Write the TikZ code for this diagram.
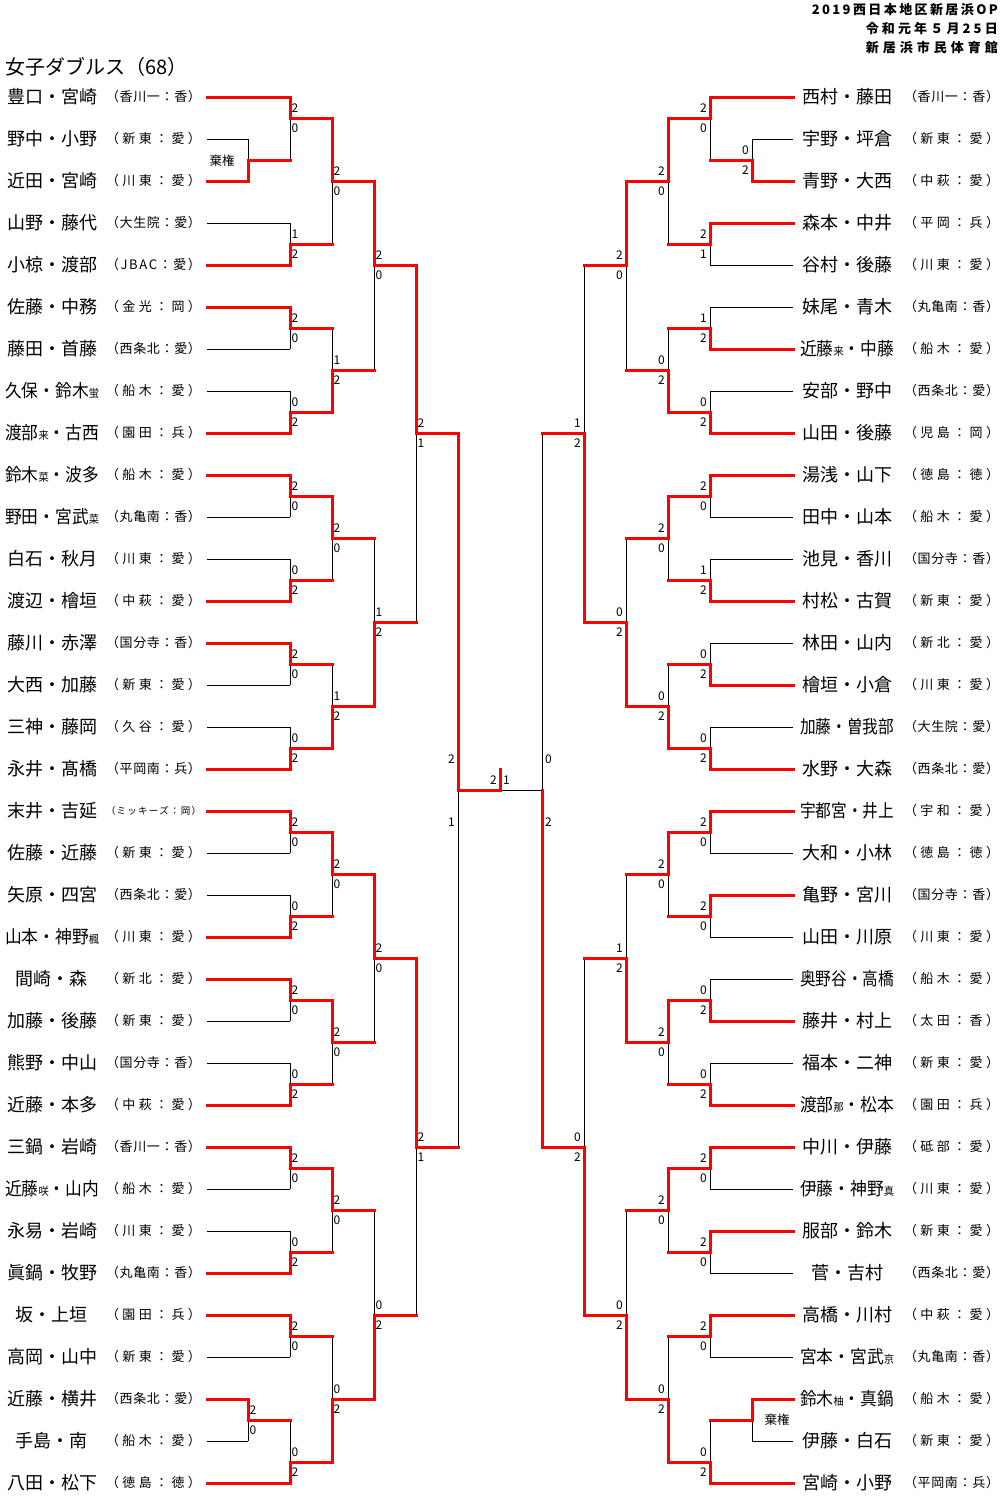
\documentclass[tikz,border=0pt]{standalone}
\usepackage{fontspec}
\usepackage{graphicx}
\setmainfont{Noto Sans CJK JP}

% squeeze long names into their column
\newsavebox\namebox
\newcommand\fitname[1]{\sbox\namebox{#1}%
  \ifdim\wd\namebox>94pt\resizebox{94pt}{\height}{\usebox\namebox}\else\usebox\namebox\fi}
\newcommand\sm[1]{{\fontsize{11}{11}\selectfont #1}}

% spread the letters of a text over a fixed width
\newcommand\spread[2]{\makebox[#1][s]{\spreadfirst#2\relax}}
\def\spreadfirst#1{#1\spreadrest}
\def\spreadrest#1{\ifx#1\relax\else\hfil#1\expandafter\spreadrest\fi}

\newcommand\lplayer[4][]{%
  \node[pname] (Ln#2) at (52,{97+42*#2}) {\fitname{#3}};
  \node[club,#1] (Lc#2) at (153.5,{97+42*#2}) {\spread{95pt}{（#4）}};
  \coordinate (Lp#2) at (207,{97+42*#2});}
\newcommand\rplayer[4][]{%
  \node[pname] (Rn#2) at (847,{97+42*#2}) {\fitname{#3}};
  \node[club,#1] (Rc#2) at (951.5,{97+42*#2}) {\spread{95pt}{（#4）}};
  \coordinate (Rp#2) at (793,{97+42*#2});}

% junction, winner, loser, loser line, side, top score, bottom score
\newcommand\bout[7]{%
  \draw[lose] (#3 -| #1) -- (#1);
  \draw[#4] (#3) -- (#3 -| #1);
  \draw[win] (#2) -| (#1);
  \node[score,#5top] (#1t) at (#1) {#6};
  \node[score,#5bot] (#1b) at (#1) {#7};}

\begin{document}
\begin{tikzpicture}[
    x=1pt, y=-1pt,
    win/.style={draw=red, line width=3pt, line cap=rect},
    lose/.style={draw=black, line width=1pt},
    pname/.style={font=\fontsize{18}{18}\selectfont, inner sep=0pt},
    club/.style={font=\fontsize{13}{13}\selectfont, inner sep=0pt},
    score/.style={font=\fontsize{12}{12}\selectfont, inner sep=0pt},
    head/.style={font=\fontsize{13}{13}\selectfont\bfseries, inner sep=0pt, anchor=east},
    wo/.style={font=\fontsize{12.5}{13}\selectfont, inner sep=0pt},
    ltop/.style={anchor=west, xshift=1.5pt, yshift=9.5pt},
    lbot/.style={anchor=west, xshift=1.5pt, yshift=-10.5pt},
    rtop/.style={anchor=east, xshift=-3pt, yshift=9.5pt},
    rbot/.style={anchor=east, xshift=-3pt, yshift=-10.5pt},
    sltop/.style={anchor=east, xshift=-3pt, yshift=31pt},
    slbot/.style={anchor=east, xshift=-3pt, yshift=-32pt},
    srtop/.style={anchor=west, xshift=3pt, yshift=31pt},
    srbot/.style={anchor=west, xshift=3pt, yshift=-32pt}
]
\useasboundingbox (0,0) rectangle (1005,1505);

% heading
\node[anchor=west, inner sep=0pt, font=\fontsize{20}{20}\selectfont] (title) at (5,67) {女子ダブルス（68）};
\node[head] (hd1) at (998,10) {\spread{186pt}{2019西日本地区新居浜OP}};
\node[head] (hd2) at (998,29) {\spread{132pt}{令和元年５月25日}};
\node[head] (hd3) at (998,48) {\spread{132pt}{新居浜市民体育館}};

% left half
\lplayer{0}{豊口・宮崎}{香川一：香}
\lplayer{1}{野中・小野}{新東：愛}
\lplayer{2}{近田・宮崎}{川東：愛}
\lplayer{3}{山野・藤代}{大生院：愛}
\lplayer{4}{小椋・渡部}{JBAC：愛}
\lplayer{5}{佐藤・中務}{金光：岡}
\lplayer{6}{藤田・首藤}{西条北：愛}
\lplayer{7}{久保・鈴木\sm{蛍}}{船木：愛}
\lplayer{8}{渡部\sm{来}・古西}{園田：兵}
\lplayer{9}{鈴木\sm{菜}・波多}{船木：愛}
\lplayer{10}{野田・宮武\sm{菜}}{丸亀南：香}
\lplayer{11}{白石・秋月}{川東：愛}
\lplayer{12}{渡辺・檜垣}{中萩：愛}
\lplayer{13}{藤川・赤澤}{国分寺：香}
\lplayer{14}{大西・加藤}{新東：愛}
\lplayer{15}{三神・藤岡}{久谷：愛}
\lplayer{16}{永井・髙橋}{平岡南：兵}
\lplayer[font=\fontsize{9.5}{10}\selectfont]{17}{末井・吉延}{ミッキーズ：岡}
\lplayer{18}{佐藤・近藤}{新東：愛}
\lplayer{19}{矢原・四宮}{西条北：愛}
\lplayer{20}{山本・神野\sm{楓}}{川東：愛}
\lplayer{21}{間崎・森}{新北：愛}
\lplayer{22}{加藤・後藤}{新東：愛}
\lplayer{23}{熊野・中山}{国分寺：香}
\lplayer{24}{近藤・本多}{中萩：愛}
\lplayer{25}{三鍋・岩崎}{香川一：香}
\lplayer{26}{近藤\sm{咲}・山内}{船木：愛}
\lplayer{27}{永易・岩崎}{川東：愛}
\lplayer{28}{眞鍋・牧野}{丸亀南：香}
\lplayer{29}{坂・上垣}{園田：兵}
\lplayer{30}{高岡・山中}{新東：愛}
\lplayer{31}{近藤・横井}{西条北：愛}
\lplayer{32}{手島・南}{船木：愛}
\lplayer{33}{八田・松下}{徳島：徳}

% right half
\rplayer{0}{西村・藤田}{香川一：香}
\rplayer{1}{宇野・坪倉}{新東：愛}
\rplayer{2}{青野・大西}{中萩：愛}
\rplayer{3}{森本・中井}{平岡：兵}
\rplayer{4}{谷村・後藤}{川東：愛}
\rplayer{5}{妹尾・青木}{丸亀南：香}
\rplayer{6}{近藤\sm{来}・中藤}{船木：愛}
\rplayer{7}{安部・野中}{西条北：愛}
\rplayer{8}{山田・後藤}{児島：岡}
\rplayer{9}{湯浅・山下}{徳島：徳}
\rplayer{10}{田中・山本}{船木：愛}
\rplayer{11}{池見・香川}{国分寺：香}
\rplayer{12}{村松・古賀}{新東：愛}
\rplayer{13}{林田・山内}{新北：愛}
\rplayer{14}{檜垣・小倉}{川東：愛}
\rplayer{15}{加藤・曽我部}{大生院：愛}
\rplayer{16}{水野・大森}{西条北：愛}
\rplayer{17}{宇都宮・井上}{宇和：愛}
\rplayer{18}{大和・小林}{徳島：徳}
\rplayer{19}{亀野・宮川}{国分寺：香}
\rplayer{20}{山田・川原}{川東：愛}
\rplayer{21}{奥野谷・高橋}{船木：愛}
\rplayer{22}{藤井・村上}{太田：香}
\rplayer{23}{福本・二神}{新東：愛}
\rplayer{24}{渡部\sm{那}・松本}{園田：兵}
\rplayer{25}{中川・伊藤}{砥部：愛}
\rplayer{26}{伊藤・神野\sm{真}}{川東：愛}
\rplayer{27}{服部・鈴木}{新東：愛}
\rplayer{28}{菅・吉村}{西条北：愛}
\rplayer{29}{高橋・川村}{中萩：愛}
\rplayer{30}{宮本・宮武\sm{京}}{丸亀南：香}
\rplayer{31}{鈴木\sm{柚}・真鍋}{船木：愛}
\rplayer{32}{伊藤・白石}{新東：愛}
\rplayer{33}{宮崎・小野}{平岡南：兵}

% junctions
\coordinate (Lq0) at (248,160);
\coordinate (Lq1) at (248,1420);
\coordinate (Rq0) at (752,160);
\coordinate (Rq1) at (752,1420);
\foreach \y [count=\i from 0] in {118,244,328,412,496,580,664,748,832,916,1000,1084,1168,1252,1336,1462} {
  \coordinate (L1m\i) at (290,\y);
  \coordinate (R1m\i) at (710,\y);
}
\foreach \y [count=\i from 0] in {181,370,538,706,874,1042,1210,1399} {
  \coordinate (L2m\i) at (332,\y);
  \coordinate (R2m\i) at (668,\y);
}
\foreach \y [count=\i from 0] in {265,622,958,1315} {
  \coordinate (L3m\i) at (374,\y);
  \coordinate (R3m\i) at (626,\y);
}
\coordinate (L4m0) at (416,433);
\coordinate (L4m1) at (416,1147);
\coordinate (R4m0) at (584,433);
\coordinate (R4m1) at (584,1147);
\coordinate (L5m0) at (458,790);
\coordinate (R5m0) at (542,790);
\coordinate (F) at (500,790);
\coordinate (W) at (500,769);

% left draw
\draw[lose] (Lp1) -| (Lq0);
\draw[win] (Lp2) -| (Lq0);
\node[wo] (Lwo) at (222,161) {棄権};
\bout{Lq1}{Lp31}{Lp32}{lose}{l}{2}{0}

\bout{L1m0}{Lp0}{Lq0}{win}{l}{2}{0}
\bout{L1m1}{Lp4}{Lp3}{lose}{l}{1}{2}
\bout{L1m2}{Lp5}{Lp6}{lose}{l}{2}{0}
\bout{L1m3}{Lp8}{Lp7}{lose}{l}{0}{2}
\bout{L1m4}{Lp9}{Lp10}{lose}{l}{2}{0}
\bout{L1m5}{Lp12}{Lp11}{lose}{l}{0}{2}
\bout{L1m6}{Lp13}{Lp14}{lose}{l}{2}{0}
\bout{L1m7}{Lp16}{Lp15}{lose}{l}{0}{2}
\bout{L1m8}{Lp17}{Lp18}{lose}{l}{2}{0}
\bout{L1m9}{Lp20}{Lp19}{lose}{l}{0}{2}
\bout{L1m10}{Lp21}{Lp22}{lose}{l}{2}{0}
\bout{L1m11}{Lp24}{Lp23}{lose}{l}{0}{2}
\bout{L1m12}{Lp25}{Lp26}{lose}{l}{2}{0}
\bout{L1m13}{Lp28}{Lp27}{lose}{l}{0}{2}
\bout{L1m14}{Lp29}{Lp30}{lose}{l}{2}{0}
\bout{L1m15}{Lp33}{Lq1}{win}{l}{0}{2}

\bout{L2m0}{L1m0}{L1m1}{win}{l}{2}{0}
\bout{L2m1}{L1m3}{L1m2}{win}{l}{1}{2}
\bout{L2m2}{L1m4}{L1m5}{win}{l}{2}{0}
\bout{L2m3}{L1m7}{L1m6}{win}{l}{1}{2}
\bout{L2m4}{L1m8}{L1m9}{win}{l}{2}{0}
\bout{L2m5}{L1m10}{L1m11}{win}{l}{2}{0}
\bout{L2m6}{L1m12}{L1m13}{win}{l}{2}{0}
\bout{L2m7}{L1m15}{L1m14}{win}{l}{0}{2}

\bout{L3m0}{L2m0}{L2m1}{win}{l}{2}{0}
\bout{L3m1}{L2m3}{L2m2}{win}{l}{1}{2}
\bout{L3m2}{L2m4}{L2m5}{win}{l}{2}{0}
\bout{L3m3}{L2m7}{L2m6}{win}{l}{0}{2}

\bout{L4m0}{L3m0}{L3m1}{win}{l}{2}{1}
\bout{L4m1}{L3m2}{L3m3}{win}{l}{2}{1}

\bout{L5m0}{L4m0}{L4m1}{win}{sl}{2}{1}

% right draw
\bout{Rq0}{Rp2}{Rp1}{lose}{r}{0}{2}
\draw[lose] (Rp32) -| (Rq1);
\draw[win] (Rp31) -| (Rq1);
\node[wo] (Rwo) at (777,1420) {棄権};

\bout{R1m0}{Rp0}{Rq0}{win}{r}{2}{0}
\bout{R1m1}{Rp3}{Rp4}{lose}{r}{2}{1}
\bout{R1m2}{Rp6}{Rp5}{lose}{r}{1}{2}
\bout{R1m3}{Rp8}{Rp7}{lose}{r}{0}{2}
\bout{R1m4}{Rp9}{Rp10}{lose}{r}{2}{0}
\bout{R1m5}{Rp12}{Rp11}{lose}{r}{1}{2}
\bout{R1m6}{Rp14}{Rp13}{lose}{r}{0}{2}
\bout{R1m7}{Rp16}{Rp15}{lose}{r}{0}{2}
\bout{R1m8}{Rp17}{Rp18}{lose}{r}{2}{0}
\bout{R1m9}{Rp19}{Rp20}{lose}{r}{2}{0}
\bout{R1m10}{Rp22}{Rp21}{lose}{r}{0}{2}
\bout{R1m11}{Rp24}{Rp23}{lose}{r}{0}{2}
\bout{R1m12}{Rp25}{Rp26}{lose}{r}{2}{0}
\bout{R1m13}{Rp27}{Rp28}{lose}{r}{2}{0}
\bout{R1m14}{Rp29}{Rp30}{lose}{r}{2}{0}
\bout{R1m15}{Rp33}{Rq1}{win}{r}{0}{2}

\bout{R2m0}{R1m0}{R1m1}{win}{r}{2}{0}
\bout{R2m1}{R1m3}{R1m2}{win}{r}{0}{2}
\bout{R2m2}{R1m4}{R1m5}{win}{r}{2}{0}
\bout{R2m3}{R1m7}{R1m6}{win}{r}{0}{2}
\bout{R2m4}{R1m8}{R1m9}{win}{r}{2}{0}
\bout{R2m5}{R1m10}{R1m11}{win}{r}{2}{0}
\bout{R2m6}{R1m12}{R1m13}{win}{r}{2}{0}
\bout{R2m7}{R1m15}{R1m14}{win}{r}{0}{2}

\bout{R3m0}{R2m0}{R2m1}{win}{r}{2}{0}
\bout{R3m1}{R2m3}{R2m2}{win}{r}{0}{2}
\bout{R3m2}{R2m5}{R2m4}{win}{r}{1}{2}
\bout{R3m3}{R2m7}{R2m6}{win}{r}{0}{2}

\bout{R4m0}{R3m1}{R3m0}{win}{r}{1}{2}
\bout{R4m1}{R3m3}{R3m2}{win}{r}{0}{2}

\bout{R5m0}{R4m1}{R4m0}{win}{sr}{0}{2}

% final
\draw[lose] (R5m0) -- (F);
\draw[win] (L5m0) -- (F) -- (W);
\node[score, anchor=east] (Fl) at (497,780) {2};
\node[score, anchor=west] (Fr) at (503,780) {1};

\end{tikzpicture}
\end{document}
